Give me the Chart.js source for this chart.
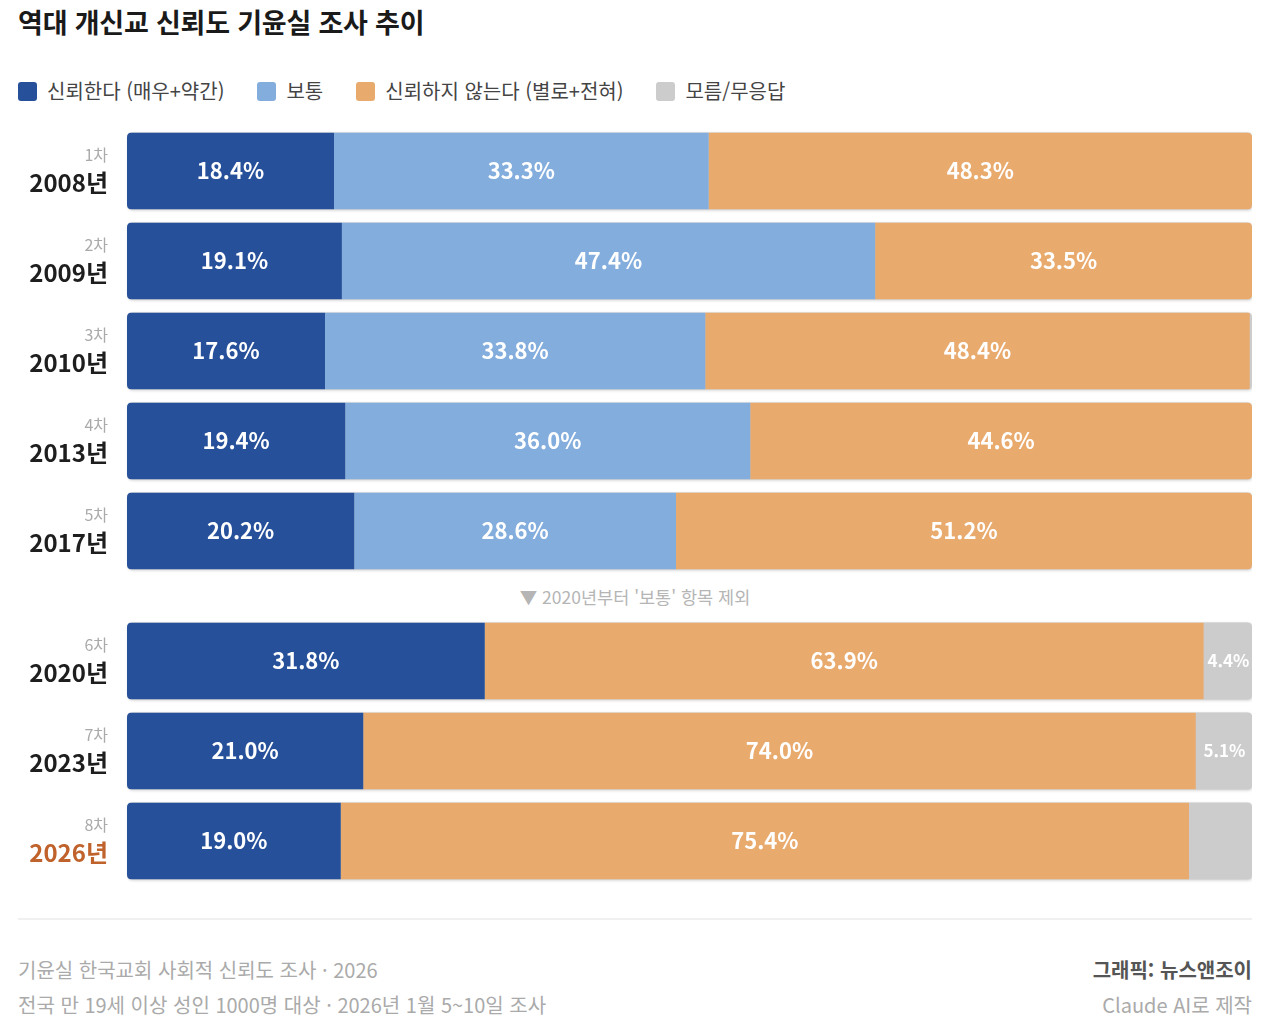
<!DOCTYPE html>
<html lang="ko">
<head>
<meta charset="utf-8">
<script src="https://cdn.jsdelivr.net/npm/chart.js@4"></script>
<style>
  html, body { margin:0; padding:0; background:#fff; }
  body { width:1280px; height:1032px; position:relative; overflow:hidden;
         font-family:"Noto Sans CJK KR","Noto Sans",sans-serif; }
  .abs { position:absolute; }
  #title { left:18px; top:4px; font-size:27px; line-height:36px; font-weight:700; color:#1a1a1a; letter-spacing:-0.2px; }
  #legend { left:18px; top:79px; display:flex; align-items:center; font-size:20px; line-height:24px; color:#444; }
  #legend .item { display:flex; align-items:center; margin-right:33px; }
  #legend .sw { width:19px; height:19px; border-radius:3px; margin-right:10px; }
  #note { left:18px; width:1234px; top:586px; text-align:center; font-size:17.5px; line-height:22px; color:#b5b5b5; }
  #sep { left:18px; width:1234px; top:918px; height:2px; background:#f0f0f0; }
  .foot { font-size:20px; line-height:26px; color:#aaa; }
  #f1 { left:18px; top:957px; }
  #f2 { left:18px; top:992px; }
  #f3 { right:28px; top:957px; color:#555; font-weight:700; }
  #f4 { right:28px; top:992px; }
  #c1wrap { left:18px; top:126px; width:1234px; height:450px; }
  #c2wrap { left:18px; top:616px; width:1234px; height:270px; }
</style>
</head>
<body>
<div id="title" class="abs">역대 개신교 신뢰도 기윤실 조사 추이</div>
<div id="legend" class="abs"></div>
<div id="c1wrap" class="abs"><canvas id="c1"></canvas></div>
<div id="note" class="abs">▼ 2020년부터 '보통' 항목 제외</div>
<div id="c2wrap" class="abs"><canvas id="c2"></canvas></div>
<div id="sep" class="abs"></div>
<div id="f1" class="abs foot">기윤실 한국교회 사회적 신뢰도 조사 · 2026</div>
<div id="f2" class="abs foot">전국 만 19세 이상 성인 1000명 대상 · 2026년 1월 5~10일 조사</div>
<div id="f3" class="abs foot">그래픽: 뉴스앤조이</div>
<div id="f4" class="abs foot">Claude AI로 제작</div>

<script>
// ---- Data ----
const seriesNames = ['신뢰한다 (매우+약간)', '보통', '신뢰하지 않는다 (별로+전혀)', '모름/무응답'];
const seriesColors = ['#26509a', '#83addd', '#e9aa6e', '#cccccc'];

// Period 1 (with '보통')
const years1  = ['2008년', '2009년', '2010년', '2013년', '2017년'];
const rounds1 = ['1차', '2차', '3차', '4차', '5차'];
const trust1   = [18.4, 19.1, 17.6, 19.4, 20.2];
const neutral1 = [33.3, 47.4, 33.8, 36.0, 28.6];
const distrust1= [48.3, 33.5, 48.4, 44.6, 51.2];

// Period 2 (without '보통')
const years2  = ['2020년', '2023년', '2026년'];
const rounds2 = ['6차', '7차', '8차'];
const trust2   = [31.8, 21.0, 19.0];
const distrust2= [63.9, 74.0, 75.4];
const unknown2 = [4.4, 5.1, null];

const highlightYear = '2026년';
const FONT = '"Noto Sans CJK KR","Noto Sans",sans-serif';

// ---- Legend (HTML) ----
const lg = document.getElementById('legend');
seriesNames.forEach((n, i) => {
  const it = document.createElement('div'); it.className = 'item';
  const sw = document.createElement('div'); sw.className = 'sw'; sw.style.background = seriesColors[i];
  const tx = document.createElement('span'); tx.textContent = n;
  it.appendChild(sw); it.appendChild(tx); lg.appendChild(it);
});

function roundRectPath(ctx, x, y, w, h, r) {
  ctx.moveTo(x + r, y);
  ctx.lineTo(x + w - r, y); ctx.quadraticCurveTo(x + w, y, x + w, y + r);
  ctx.lineTo(x + w, y + h - r); ctx.quadraticCurveTo(x + w, y + h, x + w - r, y + h);
  ctx.lineTo(x + r, y + h); ctx.quadraticCurveTo(x, y + h, x, y + h - r);
  ctx.lineTo(x, y + r); ctx.quadraticCurveTo(x, y, x + r, y);
  ctx.closePath();
}

function makePlugin(rounds) {
  return {
    id: 'rows',
    beforeDatasetsDraw(chart) {
      const ctx = chart.ctx, xs = chart.scales.x;
      const meta = chart.getDatasetMeta(0);
      const x0 = xs.getPixelForValue(0), x1 = xs.getPixelForValue(100);
      ctx.save();
      meta.data.forEach((el) => {
        const h = el.height, y = el.y - h / 2;
        ctx.save();
        ctx.shadowColor = 'rgba(0,0,0,0.18)';
        ctx.shadowBlur = 3; ctx.shadowOffsetX = 1; ctx.shadowOffsetY = 1;
        ctx.beginPath(); roundRectPath(ctx, x0, y, x1 - x0, h, 5);
        ctx.fillStyle = '#cccccc'; ctx.fill();
        ctx.restore();
      });
      ctx.beginPath();
      meta.data.forEach((el) => {
        const h = el.height, y = el.y - h / 2;
        roundRectPath(ctx, x0, y, x1 - x0, h, 5);
      });
      ctx.clip();
    },
    afterDatasetsDraw(chart) {
      const ctx = chart.ctx, ys = chart.scales.y;
      ctx.restore();
      // value labels
      ctx.save();
      ctx.textAlign = 'center'; ctx.textBaseline = 'middle'; ctx.fillStyle = '#ffffff';
      chart.data.datasets.forEach((ds, di) => {
        const meta = chart.getDatasetMeta(di);
        meta.data.forEach((el, i) => {
          const v = ds.data[i];
          if (v == null || v < 1) return;
          const c = el.getCenterPoint();
          ctx.font = (v >= 10 ? '700 22px ' : '700 17px ') + FONT;
          ctx.fillText(v.toFixed(1) + '%', c.x, c.y);
        });
      });
      // category labels
      const xr = chart.chartArea.left - 19;
      ctx.textAlign = 'right'; ctx.textBaseline = 'middle';
      chart.data.labels.forEach((lab, i) => {
        const yc = ys.getPixelForValue(i);
        ctx.font = '400 16px ' + FONT; ctx.fillStyle = '#aaaaaa';
        ctx.fillText(rounds[i], xr, yc - 16);
        ctx.font = '600 24px ' + FONT;
        ctx.fillStyle = lab === highlightYear ? '#c0622b' : '#1e1e1e';
        ctx.fillText(lab, xr, yc + 12);
      });
      ctx.restore();
    }
  };
}

function makeChart(id, labels, datasets, rounds) {
  return new Chart(document.getElementById(id), {
    type: 'bar',
    data: { labels, datasets },
    options: {
      indexAxis: 'y',
      responsive: true, maintainAspectRatio: false,
      animation: false,
      layout: { padding: { left: 109, right: 0, top: 0, bottom: 0 } },
      plugins: { legend: { display: false }, tooltip: { enabled: false } },
      scales: {
        x: { stacked: true, min: 0, max: 100, display: false },
        y: { stacked: true, display: false }
      },
      datasets: { bar: { barPercentage: 1, categoryPercentage: 77 / 90, borderWidth: 0, borderSkipped: false } }
    },
    plugins: [makePlugin(rounds)]
  });
}

makeChart('c1', years1, [
  { label: seriesNames[0], data: trust1, backgroundColor: seriesColors[0] },
  { label: seriesNames[1], data: neutral1, backgroundColor: seriesColors[1] },
  { label: seriesNames[2], data: distrust1, backgroundColor: seriesColors[2] }
], rounds1);

makeChart('c2', years2, [
  { label: seriesNames[0], data: trust2, backgroundColor: seriesColors[0] },
  { label: seriesNames[2], data: distrust2, backgroundColor: seriesColors[2] },
  { label: seriesNames[3], data: unknown2, backgroundColor: seriesColors[3] }
], rounds2);
</script>
</body>
</html>
